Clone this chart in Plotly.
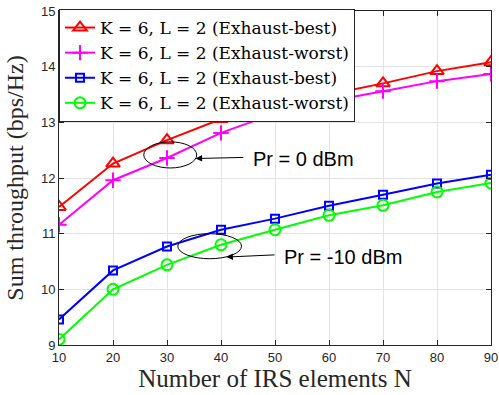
import plotly.graph_objects as go

N = [10, 20, 30, 40, 50, 60, 70, 80, 90]
best_0 = [11.48, 12.26, 12.68, 13.06, 13.28, 13.50, 13.70, 13.92, 14.08]
worst_0 = [11.16, 11.96, 12.36, 12.81, 13.16, 13.38, 13.56, 13.74, 13.87]
best_m10 = [9.46, 10.34, 10.77, 11.07, 11.27, 11.50, 11.70, 11.90, 12.06]
worst_m10 = [9.10, 10.00, 10.44, 10.80, 11.07, 11.33, 11.51, 11.75, 11.91]

names = ["K = 6, L = 2 (Exhaust-best)", "K = 6, L = 2 (Exhaust-worst)",
         "K = 6, L = 2 (Exhaust-best)", "K = 6, L = 2 (Exhaust-worst)"]
series = [best_0, worst_0, best_m10, worst_m10]
colors = ["#ff0000", "#ff00ff", "#0000ff", "#00ff00"]
symbols = ["triangle-up-open", "cross-thin-open", "square-open", "circle-open"]
sizes = [12, 11, 8, 11]

fig = go.Figure()
for ys, nm, c, s, sz in zip(series, names, colors, symbols, sizes):
    fig.add_trace(go.Scatter(
        x=N, y=ys, name=nm, mode="lines+markers",
        line=dict(color=c, width=2),
        marker=dict(symbol=s, size=sz, color=c, line=dict(color=c, width=2)),
    ))

# ellipses
fig.add_shape(type="circle", xref="x", yref="y", x0=25.7, x1=35.5, y0=12.18, y1=12.65,
              line=dict(color="black", width=1))
fig.add_shape(type="circle", xref="x", yref="y", x0=32.0, x1=43.8, y0=10.55, y1=11.0,
              line=dict(color="black", width=1))

fig.add_annotation(x=35.3, y=12.35, ax=44.4, ay=12.37, xref="x", yref="y", axref="x", ayref="y",
                   text="", showarrow=True, arrowhead=2, arrowsize=1.3, arrowwidth=1, arrowcolor="black")
fig.add_annotation(x=41.0, y=10.58, ax=50.2, ay=10.62, xref="x", yref="y", axref="x", ayref="y",
                   text="", showarrow=True, arrowhead=2, arrowsize=1.3, arrowwidth=1, arrowcolor="black")
fig.add_annotation(x=45.5, y=12.35, xref="x", yref="y", text="Pr = 0 dBm", showarrow=False,
                   xanchor="left", font=dict(family="Liberation Sans, Arial", size=20, color="black"))
fig.add_annotation(x=51.3, y=10.58, xref="x", yref="y", text="Pr = -10 dBm", showarrow=False,
                   xanchor="left", font=dict(family="Liberation Sans, Arial", size=20, color="black"))

axis_common = dict(
    showgrid=True, gridcolor="#e3e3e3", gridwidth=1,
    showline=True, linecolor="#262626", linewidth=1, mirror="ticks",
    ticks="inside", ticklen=5, tickcolor="#262626",
    tickfont=dict(family="Liberation Sans, Arial", size=13, color="#262626"),
    zeroline=False, automargin=False,
)

fig.update_layout(
    width=499, height=395,
    margin=dict(l=59, r=8, t=11, b=50),
    paper_bgcolor="white", plot_bgcolor="white",
    xaxis=dict(range=[10, 90], tickvals=N, title=dict(text="Number of IRS elements N", standoff=4,
               font=dict(family="Liberation Serif, Times New Roman", size=25, color="#262626")),
               **axis_common),
    yaxis=dict(range=[9, 15], tickvals=[9, 10, 11, 12, 13, 14, 15],
               title=dict(text="Sum throughput (bps/Hz)", standoff=10,
                          font=dict(family="Liberation Serif, Times New Roman", size=24, color="#262626")),
               **axis_common),
    legend=dict(x=0, y=1.006, xanchor="left", yanchor="top", bgcolor="white",
                bordercolor="#262626", borderwidth=1, tracegroupgap=0,
                font=dict(family="DejaVu Serif", size=17, color="black"),
                itemwidth=30),
    showlegend=True,
)

fig.write_html("out.html", config={"displayModeBar": False},
               post_script="document.body.style.margin='0px';")
